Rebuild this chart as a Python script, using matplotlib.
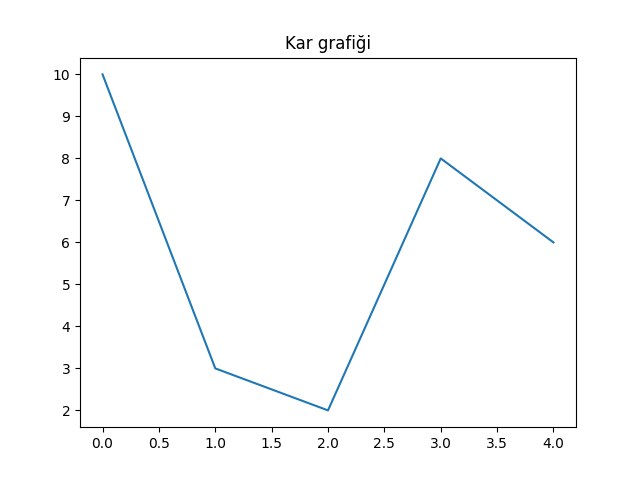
import matplotlib
matplotlib.use("Agg")
import matplotlib.pyplot as plt

x = [0, 1, 2, 3, 4]
y = [10, 3, 2, 8, 6]

fig, ax = plt.subplots(figsize=(6.4, 4.8), dpi=100)
ax.plot(x, y)
ax.set_title("Kar grafiği")
fig.savefig("out.png")
